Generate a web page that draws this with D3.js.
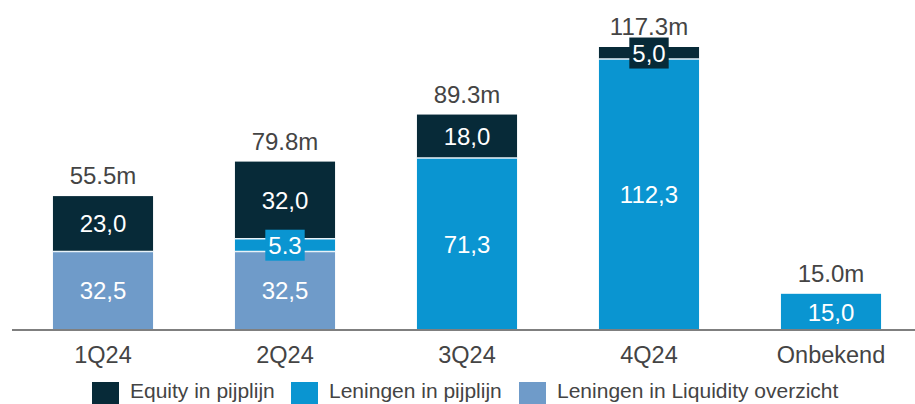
<!DOCTYPE html>
<html>
<head>
<meta charset="utf-8">
<script src="https://cdn.jsdelivr.net/npm/d3@7"></script>
<style>
  body { margin: 0; background: #fff; }
  svg { display: block; font-family: "Liberation Sans", Arial, sans-serif; }
</style>
</head>
<body>
<svg id="chart" width="915" height="404"></svg>
<script>
// data
var categories = ["1Q24", "2Q24", "3Q24", "4Q24", "Onbekend"];
var liquidity = [32.5, 32.5, 0, 0, 0];      // Leningen in Liquidity overzicht
var leningen = [0, 5.3, 71.3, 112.3, 15.0];  // Leningen in pijplijn
var equity = [23.0, 32.0, 18.0, 5.0, 0];      // Equity in pijplijn
var totals = ["55.5m", "79.8m", "89.3m", "117.3m", "15.0m"];
var liquidityLabels = ["32,5", "32,5", "", "", ""];
var leningenLabels = ["", "5.3", "71,3", "112,3", "15,0"];
var equityLabels = ["23,0", "32,0", "18,0", "5,0", ""];

var seriesNames = ["Equity in pijplijn", "Leningen in pijplijn", "Leningen in Liquidity overzicht"];

var color = d3.scaleOrdinal()
    .domain(["liquidity", "leningen", "equity"])
    .range(["#6f9bc9", "#0a95d1", "#072a38"]);

var svg = d3.select("#chart");

var baseY = 330;

var x = d3.scaleBand()
    .domain(categories)
    .range([12, 922])
    .paddingInner(0.45)
    .paddingOuter(0.225);

var y = d3.scaleLinear()
    .domain([0, 117.3])
    .range([baseY, 47]);

// build stack rows
var rows = categories.map(function (c, i) {
    return {cat: c, liquidity: liquidity[i], leningen: leningen[i], equity: equity[i], i: i};
});
var labelsByKey = {liquidity: liquidityLabels, leningen: leningenLabels, equity: equityLabels};

var stack = d3.stack().keys(["liquidity", "leningen", "equity"]);
var series = stack(rows);

var gBars = svg.append("g");

series.forEach(function (s) {
    gBars.selectAll("rect.s-" + s.key)
        .data(s.filter(function (d) { return d[1] - d[0] > 0; }))
        .enter().append("rect")
        .attr("class", "s-" + s.key)
        .attr("x", function (d) { return x(d.data.cat); })
        .attr("y", function (d) { return y(d[1]); })
        .attr("width", x.bandwidth())
        .attr("height", function (d) { return y(d[0]) - y(d[1]); })
        .style("fill", color(s.key));
});

// thin white separators between segments
series.forEach(function (s) {
    gBars.selectAll("line.sep-" + s.key)
        .data(s.filter(function (d) { return d[1] - d[0] > 0 && d[0] > 0; }))
        .enter().append("line")
        .attr("x1", function (d) { return x(d.data.cat); })
        .attr("x2", function (d) { return x(d.data.cat) + x.bandwidth(); })
        .attr("y1", function (d) { return y(d[0]); })
        .attr("y2", function (d) { return y(d[0]); })
        .style("stroke", "#e8f2f8")
        .style("stroke-width", 1.5);
});

// segment labels
var gLab = svg.append("g");
series.forEach(function (s) {
    s.forEach(function (d) {
        var txt = labelsByKey[s.key][d.data.i];
        if (!txt) return;
        var cx = x(d.data.cat) + x.bandwidth() / 2;
        var cy = (y(d[0]) + y(d[1])) / 2;
        var h = y(d[0]) - y(d[1]);
        var t = gLab.append("text")
            .attr("x", cx)
            .attr("y", cy)
            .attr("dy", "0.36em")
            .attr("text-anchor", "middle")
            .style("font-size", "24px")
            .style("fill", "#ffffff")
            .text(txt);
        if (h < 24) {
            var bb = t.node().getBBox();
            gLab.insert("rect", function () { return t.node(); })
                .attr("x", bb.x - 3)
                .attr("y", cy - 15.5)
                .attr("width", bb.width + 6)
                .attr("height", 31)
                .style("fill", color(s.key));
        }
    });
});

// totals above bars
var tops = rows.map(function (r) { return r.liquidity + r.leningen + r.equity; });
svg.append("g").selectAll("text")
    .data(categories)
    .enter().append("text")
    .attr("x", function (d) { return x(d) + x.bandwidth() / 2; })
    .attr("y", function (d, i) { return y(tops[i]) - 12; })
    .attr("text-anchor", "middle")
    .style("font-size", "24px")
    .style("fill", "#444")
    .text(function (d, i) { return totals[i]; });

// baseline axis
var xAxis = d3.axisBottom(x).tickSize(0).tickPadding(0);
var gX = svg.append("g")
    .attr("transform", "translate(0," + baseY + ")")
    .call(xAxis);
gX.select("path.domain").remove();
gX.append("line")
    .attr("x1", 12).attr("x2", 915)
    .attr("y1", 0).attr("y2", 0)
    .style("stroke", "#7f7f7f")
    .style("stroke-width", 2);
gX.selectAll(".tick text")
    .attr("y", 33)
    .attr("dy", 0)
    .style("font-size", "23.5px")
    .style("font-family", "Liberation Sans, Arial, sans-serif")
    .style("fill", "#444");

// legend at the bottom edge
var legendKeys = ["equity", "leningen", "liquidity"];
var legendX = [92, 291, 519];
var lg = svg.append("g").selectAll("g")
    .data(legendKeys)
    .enter().append("g")
    .attr("transform", function (d, i) { return "translate(" + legendX[i] + ",382)"; });
lg.append("rect")
    .attr("width", 27)
    .attr("height", 22)
    .style("fill", function (d) { return color(d); });
lg.append("text")
    .attr("x", 38)
    .attr("y", 16)
    .style("font-size", "21px")
    .style("fill", "#444")
    .text(function (d, i) { return seriesNames[i]; });
</script>
</body>
</html>
